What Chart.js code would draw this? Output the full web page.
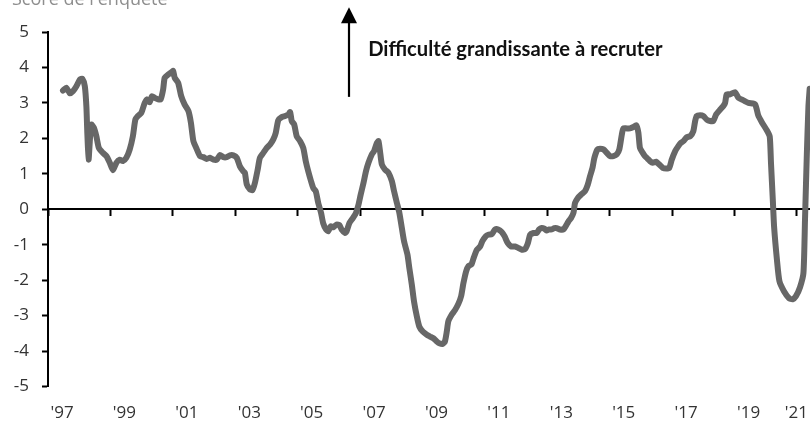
<!DOCTYPE html>
<html>
<head>
<meta charset="utf-8">
<script src="https://cdn.jsdelivr.net/npm/chart.js@4.4.1/dist/chart.umd.min.js"></script>
<style>
  html, body { margin: 0; padding: 0; background: #fff; }
  #wrap { position: relative; width: 810px; height: 422px; overflow: hidden; }
  #c { position: absolute; left: 0; top: -14px; }
</style>
</head>
<body>
<div id="wrap"><canvas id="c" width="810" height="436"></canvas></div>
<script>
// ---- data ----
const titleText = "Score de l'enquête";
const noteText = "Difficulté grandissante à recruter";
const tickYears = [1997, 1999, 2001, 2003, 2005, 2007, 2009, 2011, 2013, 2015, 2017, 2019, 2021];
const tickLabels = ["'97", "'99", "'01", "'03", "'05", "'07", "'09", "'11", "'13", "'15", "'17", "'19", "'21"];
const years = [
  1997.48, 1997.59, 1997.70, 1997.80, 1997.91, 1998.02, 1998.10, 1998.18, 1998.23, 1998.26,
  1998.30, 1998.35, 1998.39, 1998.47, 1998.55, 1998.63, 1998.76, 1998.87, 1998.98, 1999.08,
  1999.19, 1999.30, 1999.40, 1999.51, 1999.62, 1999.72, 1999.80, 1999.88, 1999.99, 2000.10,
  2000.17, 2000.26, 2000.33, 2000.42, 2000.53, 2000.61, 2000.69, 2000.74, 2000.85, 2000.93,
  2001.01, 2001.06, 2001.17, 2001.27, 2001.38, 2001.50, 2001.58, 2001.66, 2001.77, 2001.87,
  2001.98, 2002.09, 2002.19, 2002.30, 2002.41, 2002.51, 2002.62, 2002.73, 2002.83, 2002.94,
  2003.05, 2003.15, 2003.26, 2003.31, 2003.37, 2003.47, 2003.55, 2003.63, 2003.72, 2003.79,
  2003.90, 2004.01, 2004.12, 2004.22, 2004.30, 2004.38, 2004.49, 2004.60, 2004.70, 2004.76,
  2004.81, 2004.89, 2004.97, 2005.08, 2005.18, 2005.26, 2005.34, 2005.43, 2005.50, 2005.58,
  2005.66, 2005.75, 2005.82, 2005.91, 2005.98, 2006.06, 2006.14, 2006.25, 2006.34, 2006.41,
  2006.52, 2006.57, 2006.66, 2006.77, 2006.87, 2006.95, 2007.02, 2007.11, 2007.19, 2007.27,
  2007.38, 2007.45, 2007.54, 2007.59, 2007.64, 2007.70, 2007.80, 2007.91, 2008.02, 2008.09,
  2008.18, 2008.26, 2008.34, 2008.41, 2008.52, 2008.58, 2008.66, 2008.73, 2008.82, 2008.90,
  2009.01, 2009.14, 2009.24, 2009.35, 2009.46, 2009.54, 2009.65, 2009.72, 2009.78, 2009.83,
  2009.94, 2010.04, 2010.15, 2010.24, 2010.31, 2010.40, 2010.48, 2010.57, 2010.65, 2010.74,
  2010.85, 2010.92, 2011.03, 2011.11, 2011.22, 2011.33, 2011.43, 2011.54, 2011.63, 2011.73,
  2011.84, 2011.97, 2012.07, 2012.18, 2012.29, 2012.38, 2012.45, 2012.56, 2012.66, 2012.74,
  2012.82, 2012.91, 2012.98, 2013.06, 2013.14, 2013.23, 2013.30, 2013.41, 2013.52, 2013.59,
  2013.68, 2013.76, 2013.84, 2013.89, 2013.98, 2014.08, 2014.21, 2014.30, 2014.37, 2014.45,
  2014.51, 2014.61, 2014.69, 2014.80, 2014.91, 2015.01, 2015.12, 2015.23, 2015.31, 2015.39,
  2015.44, 2015.55, 2015.65, 2015.76, 2015.85, 2015.92, 2015.97, 2016.06, 2016.13, 2016.21,
  2016.29, 2016.38, 2016.49, 2016.59, 2016.70, 2016.81, 2016.91, 2016.99, 2017.10, 2017.20,
  2017.28, 2017.36, 2017.47, 2017.58, 2017.68, 2017.74, 2017.79, 2017.90, 2018.00, 2018.11,
  2018.22, 2018.32, 2018.41, 2018.52, 2018.64, 2018.70, 2018.75, 2018.86, 2019.02, 2019.13,
  2019.29, 2019.45, 2019.66, 2019.76, 2019.88, 2020.04, 2020.13, 2020.17, 2020.23, 2020.27,
  2020.36, 2020.44, 2020.59, 2020.75, 2020.86, 2020.97, 2021.10, 2021.21, 2021.26, 2021.32,
  2021.37, 2021.41
];
const scores = [
  3.35, 3.43, 3.27, 3.33, 3.47, 3.66, 3.68, 3.47, 2.90, 2.15,
  1.40, 2.06, 2.39, 2.30, 2.06, 1.73, 1.59, 1.50, 1.31, 1.10,
  1.31, 1.40, 1.36, 1.45, 1.69, 2.06, 2.53, 2.63, 2.72, 3.00,
  3.10, 3.02, 3.19, 3.14, 3.10, 3.10, 3.38, 3.71, 3.80, 3.85,
  3.90, 3.71, 3.57, 3.19, 2.95, 2.77, 2.44, 1.92, 1.69, 1.50,
  1.47, 1.42, 1.45, 1.40, 1.40, 1.53, 1.47, 1.47, 1.52, 1.52,
  1.45, 1.21, 1.07, 1.03, 0.70, 0.56, 0.54, 0.74, 1.12, 1.45,
  1.59, 1.73, 1.83, 1.97, 2.16, 2.51, 2.60, 2.63, 2.67, 2.74,
  2.49, 2.39, 2.06, 1.92, 1.73, 1.36, 1.07, 0.79, 0.60, 0.51,
  0.18, -0.10, -0.40, -0.57, -0.62, -0.48, -0.51, -0.43, -0.45, -0.57,
  -0.67, -0.62, -0.39, -0.25, -0.10, 0.13, 0.41, 0.74, 1.07, 1.31,
  1.55, 1.64, 1.87, 1.92, 1.64, 1.26, 1.12, 1.03, 0.79, 0.51,
  0.18, -0.10, -0.53, -0.90, -1.28, -1.66, -2.13, -2.60, -3.02, -3.31,
  -3.45, -3.54, -3.59, -3.64, -3.73, -3.78, -3.80, -3.73, -3.45, -3.16,
  -2.97, -2.85, -2.67, -2.45, -2.10, -1.75, -1.60, -1.56, -1.35, -1.15,
  -1.05, -0.90, -0.76, -0.72, -0.70, -0.57, -0.57, -0.64, -0.76, -0.95,
  -1.05, -1.05, -1.09, -1.14, -1.12, -0.95, -0.72, -0.67, -0.67, -0.57,
  -0.53, -0.55, -0.60, -0.57, -0.57, -0.53, -0.53, -0.57, -0.57, -0.48,
  -0.34, -0.25, -0.10, 0.18, 0.32, 0.41, 0.51, 0.70, 0.93, 1.17,
  1.45, 1.69, 1.71, 1.69, 1.59, 1.50, 1.50, 1.55, 1.69, 2.11,
  2.28, 2.28, 2.28, 2.32, 2.37, 2.16, 1.73, 1.59, 1.50, 1.43,
  1.36, 1.31, 1.34, 1.26, 1.17, 1.15, 1.17, 1.40, 1.64, 1.78,
  1.87, 1.92, 2.03, 2.06, 2.20, 2.49, 2.63, 2.65, 2.63, 2.53,
  2.49, 2.49, 2.67, 2.79, 2.91, 3.00, 3.24, 3.24, 3.30, 3.14,
  3.07, 3.00, 2.96, 2.65, 2.45, 2.22, 2.05, 1.30, 0.23, -0.50,
  -1.42, -2.03, -2.32, -2.51, -2.54, -2.45, -2.20, -1.80, -0.30, 1.60,
  2.90, 3.40
];
// annotation anchor (data coordinates)
const arrowYear = 2006.65, arrowFrom = 3.17, arrowTo = 5.70;
const noteYear = 2007.26, noteValue = 4.52;

// ---- chart ----
const X_MIN = 1997, X_MAX = 2021.42;
const points = years.map((yr, i) => ({ x: yr, y: scores[i] }));
const tickFont = { family: "'Open Sans', sans-serif", size: 17, weight: '400' };

const annotationPlugin = {
  id: 'note',
  afterDraw(chart) {
    const { ctx } = chart;
    const xs = chart.scales.x, ys = chart.scales.y;
    const ax = Math.round(xs.getPixelForValue(arrowYear));
    const yBot = ys.getPixelForValue(arrowFrom);
    const yTip = ys.getPixelForValue(arrowTo);
    ctx.save();
    ctx.strokeStyle = '#000';
    ctx.fillStyle = '#000';
    ctx.lineWidth = 2.2;
    ctx.beginPath();
    ctx.moveTo(ax, yBot);
    ctx.lineTo(ax, yTip + 14);
    ctx.stroke();
    ctx.beginPath();
    ctx.moveTo(ax, yTip);
    ctx.lineTo(ax - 8, yTip + 16);
    ctx.lineTo(ax + 8, yTip + 16);
    ctx.closePath();
    ctx.fill();
    // fit the note to the width it takes in the reference (~294 px)
    let size = 17;
    ctx.font = "bold " + size + "px Lato, 'Open Sans', sans-serif";
    const w = ctx.measureText(noteText).width;
    size = Math.round(size * 294 / w * 10) / 10;
    ctx.font = "bold " + size + "px Lato, 'Open Sans', sans-serif";
    ctx.fillStyle = '#111';
    ctx.textBaseline = 'middle';
    ctx.textAlign = 'left';
    ctx.fillText(noteText, xs.getPixelForValue(noteYear), ys.getPixelForValue(noteValue));
    ctx.restore();
  }
};

new Chart(document.getElementById('c'), {
  type: 'line',
  data: {
    datasets: [{
      data: points,
      borderColor: '#676767',
      borderWidth: 6,
      pointRadius: 0,
      tension: 0.2,
      borderJoinStyle: 'round',
      borderCapStyle: 'round',
      fill: false,
      xAxisID: 'x',
      yAxisID: 'y'
    }]
  },
  options: {
    responsive: false,
    animation: false,
    devicePixelRatio: 1,
    layout: { padding: { left: 12, right: 0, top: 0, bottom: 0 } },
    plugins: {
      legend: { display: false },
      tooltip: { enabled: false },
      title: {
        display: true,
        text: titleText,
        align: 'start',
        color: '#8e8e8e',
        font: { family: "'Open Sans', sans-serif", size: 18, weight: '400' },
        padding: { top: 3, bottom: 21.4 }
      }
    },
    scales: {
      y: {
        type: 'linear',
        position: 'left',
        min: -5, max: 5,
        afterFit(s) { s.width = 36; },
        ticks: { stepSize: 1, color: '#333', font: tickFont, padding: 13, callback: v => String(v) },
        grid: { drawOnChartArea: false, drawTicks: true, tickLength: 6, tickColor: '#000', tickWidth: 2 },
        border: { display: true, color: '#000', width: 2 }
      },
      x: {
        type: 'linear',
        axis: 'x',
        position: { y: 0 },
        min: X_MIN, max: X_MAX,
        afterBuildTicks(s) { s.ticks = tickYears.map(v => ({ value: v })); },
        ticks: { display: false },
        grid: { drawOnChartArea: false, drawTicks: true, tickLength: 6, tickColor: '#000', tickWidth: 2 },
        border: { display: true, color: '#000', width: 2 }
      },
      x2: {
        type: 'linear',
        axis: 'x',
        position: 'bottom',
        min: X_MIN, max: X_MAX,
        afterBuildTicks(s) { s.ticks = tickYears.map(v => ({ value: Math.min(v + 0.45, X_MAX - 0.44) })); },
        afterFit(s) { s.height = 35.5; s.paddingLeft = 0; s.paddingRight = 0; },
        ticks: { color: '#333', font: tickFont, padding: 16, maxRotation: 0, autoSkip: false,
                 callback: (v, i) => tickLabels[i] },
        grid: { display: false, drawTicks: false },
        border: { display: false }
      }
    }
  },
  plugins: [annotationPlugin]
});
</script>
</body>
</html>
